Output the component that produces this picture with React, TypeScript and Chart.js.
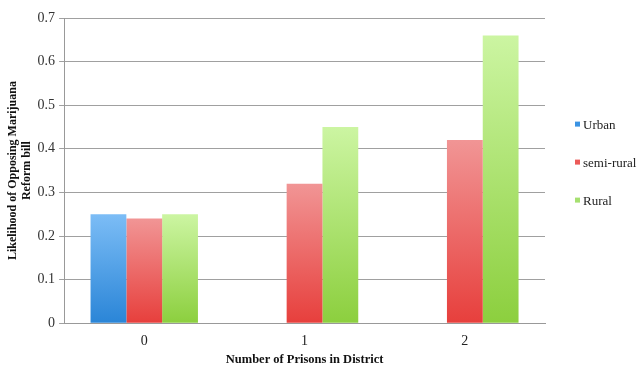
import React, { useEffect, useRef } from "react";
import { Chart, registerables } from "chart.js";

Chart.register(...registerables);

const categories = ["0", "1", "2"];
const seriesNames = ["Urban", "semi-rural", "Rural"];
const urbanValues = [0.25, 0, 0];
const semiRuralValues = [0.24, 0.32, 0.42];
const ruralValues = [0.25, 0.45, 0.66];
const yTickMax = 0.7;
const yTickStep = 0.1;

const FONT = "Liberation Serif, Times New Roman, serif";

const palettes = [
  { top: "#7cbdf6", bottom: "#2a85d7", legend: "#3b93e3" },
  { top: "#f19595", bottom: "#e73f3c", legend: "#ec5a58" },
  { top: "#ccf5a2", bottom: "#8ccf3e", legend: "#a6e070" },
];

function gradientFor(idx: number) {
  return (ctx: any) => {
    const chart = ctx.chart;
    const { ctx: c, chartArea, scales } = chart;
    if (!chartArea || ctx.type !== "data") return palettes[idx].legend;
    const v = ctx.raw as number;
    const yTop = scales.y.getPixelForValue(v);
    const yBot = scales.y.getPixelForValue(0);
    if (!(yBot - yTop > 0.5)) return palettes[idx].legend;
    const g = c.createLinearGradient(0, yTop, 0, yBot);
    g.addColorStop(0, palettes[idx].top);
    g.addColorStop(1, palettes[idx].bottom);
    return g;
  };
}

const sideLegend = {
  id: "sideLegend",
  afterDraw(chart: any) {
    const { ctx, chartArea } = chart;
    const x = chartArea.right + 30;
    const mid = (chartArea.top + chartArea.bottom) / 2 - 7;
    const gap = 38;
    ctx.save();
    ctx.font = `13px ${FONT}`;
    ctx.textBaseline = "middle";
    ctx.textAlign = "left";
    seriesNames.forEach((name, i) => {
      const y = mid + (i - 1) * gap;
      ctx.fillStyle = palettes[i].legend;
      ctx.fillRect(x, y - 4, 5, 5);
      ctx.fillStyle = "#222";
      ctx.fillText(name, x + 8, y);
    });
    ctx.restore();
  },
};

export default function App() {
  const ref = useRef<HTMLCanvasElement>(null);
  useEffect(() => {
    document.body.style.margin = "0";
    Chart.defaults.font.family = FONT;
    const values = [urbanValues, semiRuralValues, ruralValues];
    const chart = new Chart(ref.current!, {
      type: "bar",
      data: {
        labels: categories,
        datasets: seriesNames.map((name, i) => ({
          label: name,
          data: values[i],
          backgroundColor: gradientFor(i) as any,
          borderWidth: 0,
          categoryPercentage: 0.67,
          barPercentage: 1.0,
        })),
      },
      options: {
        animation: false,
        responsive: false,
        maintainAspectRatio: false,
        layout: { padding: { top: 18, right: 95, left: 6, bottom: 10 } },
        plugins: {
          tooltip: { enabled: false },
          legend: { display: false },
        },
        scales: {
          x: {
            grid: { display: false, drawTicks: false },
            border: { display: true, color: "#999", width: 1 },
            ticks: { font: { family: FONT, size: 14 }, color: "#222", padding: 10 },
            title: {
              display: true,
              text: "Number of Prisons in District",
              font: { family: FONT, size: 12.5, weight: "bold" },
              color: "#111",
              padding: { top: -8, bottom: 0 },
            },
          },
          y: {
            min: 0,
            max: yTickMax,
            grid: { color: "#a0a0a0", lineWidth: 1, tickLength: 5, drawTicks: true },
            border: { display: true, color: "#999", width: 1 },
            ticks: {
              stepSize: yTickStep,
              font: { family: FONT, size: 14 },
              color: "#333",
              padding: 4,
              callback: (v: any) => String(Math.round(Number(v) * 10) / 10),
            },
            title: {
              display: true,
              text: ["Likelihood of Opposing Marijuana", "Reform bill"],
              font: { family: FONT, size: 12, weight: "bold", lineHeight: 1.15 },
              color: "#111",
              padding: { top: 0, bottom: 0 },
            },
          },
        },
      },
      plugins: [sideLegend],
    });
    return () => chart.destroy();
  }, []);
  return (
    <div style={{ position: "fixed", left: 0, top: 0, width: 640, height: 377 }}>
      <canvas ref={ref} width={640} height={377} style={{ width: 640, height: 377 }} />
    </div>
  );
}
